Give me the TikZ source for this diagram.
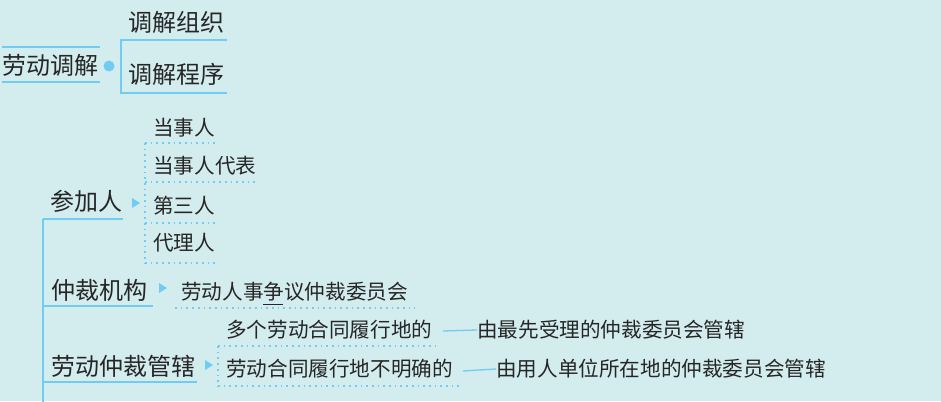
\documentclass[tikz,border=0pt]{standalone}
\usepackage{fontspec}
\newfontfamily\cjk{Noto Sans CJK SC}
\definecolor{bg}{RGB}{211,236,238}
\definecolor{ln}{RGB}{112,204,242}
\definecolor{tx}{RGB}{38,38,38}
\tikzset{
  big/.style={anchor=west,inner sep=0pt,text height=20pt,text depth=1.7pt,text=tx,font=\cjk\fontsize{24}{24}\selectfont},
  small/.style={anchor=west,inner sep=0pt,text height=17.1pt,text depth=1.4pt,text=tx,font=\cjk\fontsize{20.6}{20.6}\selectfont},
  solidline/.style={draw=ln,line width=2pt},
  dotline/.style={draw=ln,line width=1.7pt,dash pattern=on 1.7pt off 4pt},
  tri/.style={fill=ln},
}
\begin{document}
\begin{tikzpicture}[x=1pt,y=-1pt]
\fill[bg] (0,0) rectangle (941,401);
\useasboundingbox (0,0) rectangle (941,401);

% 劳动调解
\node[big] (tj) at (2,65) {劳动调解};
\draw[solidline] (2,47) -- (100,47);
\draw[solidline] (2,82) -- (100,82);
\fill[ln] (109,66) circle (5.5);
\coordinate (b1) at (227,40);
\coordinate (b2) at (121,40);
\coordinate (b3) at (121,93);
\coordinate (b4) at (227,93);
\draw[solidline] (b1) -- (b2) -- (b3) -- (b4);
\node[big] (zz) at (128,22) {调解组织};
\node[big] (cx) at (128,74) {调解程序};

% 参加人
\node[big] (cjr) at (50,201) {参加人};
\draw[solidline] (43,219) -- (123,219);
\fill[tri] (132,198) -- (140,203) -- (132,208) -- cycle;
\node[small] (p1) at (153,128) {当事人};
\node[small] (p2) at (153,166) {当事人代表};
\node[small] (p3) at (153,206) {第三人};
\node[small] (p4) at (153,243) {代理人};
\draw[dotline] (145,143) -- (215,143);
\draw[dotline] (145,182) -- (257,182);
\draw[dotline] (145,223) -- (215,223);
\draw[dotline] (145,263) -- (215,263);
\draw[dotline] (145,143) -- (145,263);

% main vertical
\draw[solidline] (43,219) -- (43,405);

% 仲裁机构
\node[big] (jg) at (51,290) {仲裁机构};
\draw[solidline] (43,306) -- (153,306);
\fill[tri] (159,283) -- (167,288) -- (159,293) -- cycle;
\node[small] (wyh) at (181,292) {劳动人事争议仲裁委员会};
\draw[tx,line width=1pt] (263,304) -- (283,304);
\draw[dotline] (175,308) -- (415,308);

% 劳动仲裁管辖
\node[big] (gx) at (51,366) {劳动仲裁管辖};
\draw[solidline] (43,382) -- (197,382);
\fill[tri] (205,360) -- (213,365) -- (205,370) -- cycle;
\node[small] (g1) at (226,330) {多个劳动合同履行地的};
\node[small] (g2) at (226,369) {劳动合同履行地不明确的};
\draw[dotline] (218,346) -- (436,346);
\draw[dotline] (218,346) -- (218,386);
\draw[dotline] (218,386) -- (462,386);
\node[small] (r1) at (477,330) {由最先受理的仲裁委员会管辖};
\node[small] (r2) at (496,369) {由用人单位所在地的仲裁委员会管辖};
\draw[draw=ln,line width=1.3pt] (443,331) -- (r1.west);
\draw[draw=ln,line width=1.3pt] (463,371) -- (r2.west);
\end{tikzpicture}
\end{document}
